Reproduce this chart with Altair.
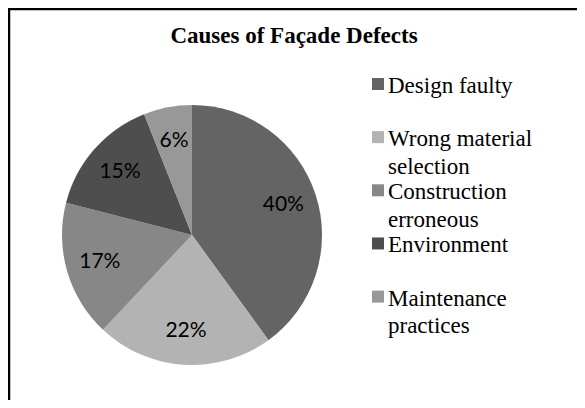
import altair as alt
import pandas as pd

categories = ["Design faulty", "Wrong material selection", "Construction erroneous",
              "Environment", "Maintenance practices"]
values = [40, 22, 17, 15, 6]
legend_labels = ["Design faulty", "Wrong material\nselection", "Construction\nerroneous",
                 "Environment", "Maintenance\npractices"]
colors = ["#646464", "#b3b3b3", "#878787", "#4e4e4e", "#989898"]
title_text = "Causes of Façade Defects"

df = pd.DataFrame({
    "category": categories,
    "value": values,
    "label": [f"{v}%" for v in values],
    "idx": list(range(len(categories))),
})

rows = []
for i, lab in enumerate(legend_labels):
    for j, line in enumerate(lab.split("\n")):
        rows.append({"idx": i, "line": j, "text": line})
legend_df = pd.DataFrame(rows)

W, H = 569, 392
CX, CY, R = 184, 227, 130
ENTRY = 53.15   # px between legend entries
LINE_H = 27.5   # px between lines inside an entry

color = alt.Color("category:N", scale=alt.Scale(domain=categories, range=colors), legend=None)

base = alt.Chart(df)

pie = base.mark_arc(radius=R, stroke=None).encode(
    theta=alt.Theta("value:Q", stack=True),
    order=alt.Order("idx:Q"),
    color=color,
    x=alt.value(CX),
    y=alt.value(CY),
)

pie_labels = base.mark_text(radius=96, font="Lato", fontSize=21, color="black",
                            align="center", baseline="middle").encode(
    theta=alt.Theta("value:Q", stack=True),
    order=alt.Order("idx:Q"),
    text="label:N",
    x=alt.value(CX),
    y=alt.value(CY),
)

yscale = alt.Scale(domain=[0, 4], range=[76, 76 + 4 * ENTRY])

swatches = base.mark_square(size=144, opacity=1, strokeWidth=0).encode(
    x=alt.value(370),
    y=alt.Y("idx:Q", scale=yscale, axis=None),
    color=color,
)

legend_text = alt.Chart(legend_df).transform_calculate(
    pos=f"datum.idx + datum.line * {LINE_H / ENTRY}"
).mark_text(font="Liberation Serif", fontSize=23, color="black",
            align="left", baseline="alphabetic", dy=9).encode(
    x=alt.value(380),
    y=alt.Y("pos:Q", scale=yscale, axis=None),
    text="text:N",
)

title = alt.Chart(pd.DataFrame({"t": [title_text]})).mark_text(
    font="Liberation Serif", fontSize=23, fontWeight="bold", color="black",
    align="center", baseline="alphabetic").encode(
    x=alt.value(286), y=alt.value(35), text="t:N")

border_top = alt.Chart(pd.DataFrame({"a": [0]})).mark_rule(color="black", strokeWidth=2.5).encode(
    x=alt.value(0), x2=alt.value(W), y=alt.value(1))
border_left = alt.Chart(pd.DataFrame({"a": [0]})).mark_rule(color="black", strokeWidth=2.5).encode(
    x=alt.value(1), y=alt.value(0), y2=alt.value(H))

chart = alt.layer(pie, pie_labels, swatches, legend_text, title, border_top, border_left).properties(
    width=W, height=H, padding=0, autosize=alt.AutoSizeParams(type="none"),
    background="white",
).configure_view(stroke=None)

chart.save("out.html", embed_options={"renderer": "svg", "actions": False})
